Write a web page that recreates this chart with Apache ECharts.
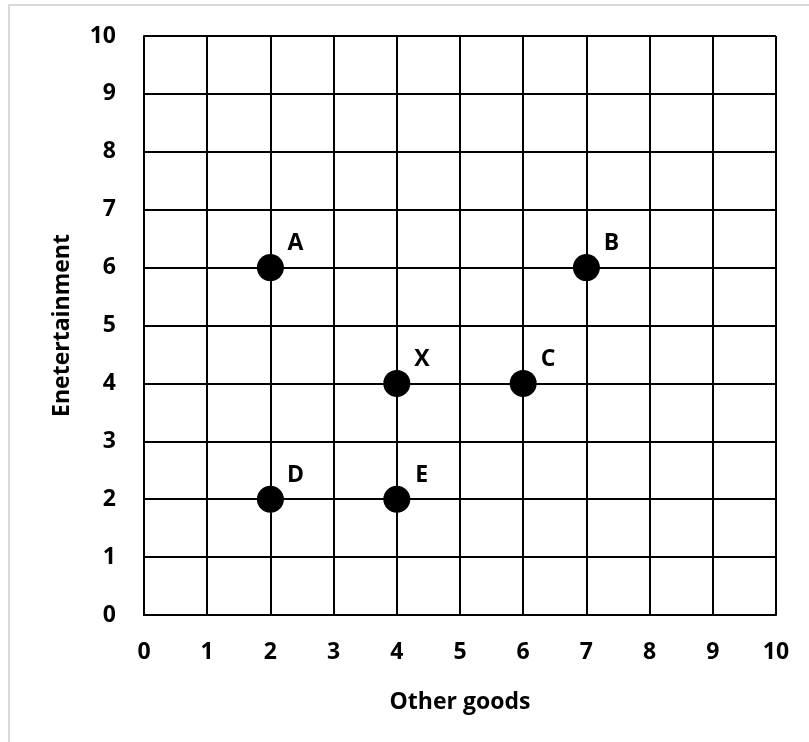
<!DOCTYPE html>
<html><head><meta charset="utf-8">
<script src="https://cdn.jsdelivr.net/npm/echarts@6/dist/echarts.min.js"></script>
<style>html,body{margin:0;padding:0;background:#fff}#c{width:809px;height:742px}</style>
</head><body><div id="c"></div>
<script>
const pointNames = ['A','B','X','C','D','E'];
const otherGoods = [2,7,4,6,2,4];
const entertainment = [6,6,4,4,2,2];
const xTicks = [0,1,2,3,4,5,6,7,8,9,10];
const yTicks = [0,1,2,3,4,5,6,7,8,9,10];
const xName = 'Other goods';
const yName = 'Enetertainment';

const font = 'Open Sans';
const fs = 23;
const chart = echarts.init(document.getElementById('c'));
const data = pointNames.map((n,i)=>({name:n, value:[otherGoods[i], entertainment[i]]}));
chart.setOption({
  animation:false,
  backgroundColor:'#fff',
  graphic:[
    {type:'line', shape:{x1:9,y1:5,x2:9,y2:742}, style:{stroke:'#d9d9d9', lineWidth:2}},
    {type:'line', shape:{x1:8,y1:5,x2:809,y2:5}, style:{stroke:'#d9d9d9', lineWidth:2}}
  ],
  grid:{left:144, top:36, width:632, height:579},
  xAxis:{type:'value', min:xTicks[0], max:xTicks[xTicks.length-1], interval:1,
    name:xName, nameLocation:'middle', nameGap:76,
    nameTextStyle:{fontFamily:font, fontWeight:'bold', fontSize:fs, color:'#000'},
    axisLine:{lineStyle:{color:'#000', width:2}}, axisTick:{show:false},
    axisLabel:{margin:26, fontFamily:font, fontWeight:'bold', fontSize:fs, color:'#000'},
    splitLine:{lineStyle:{color:'#000', width:2}}},
  yAxis:{type:'value', min:yTicks[0], max:yTicks[yTicks.length-1], interval:1,
    name:yName, nameLocation:'middle', nameGap:70,
    nameTextStyle:{fontFamily:font, fontWeight:'bold', fontSize:fs, color:'#000'},
    axisLine:{lineStyle:{color:'#000', width:2}}, axisTick:{show:false},
    axisLabel:{margin:28, fontFamily:font, fontWeight:'bold', fontSize:fs, color:'#000'},
    splitLine:{lineStyle:{color:'#000', width:2}}},
  series:[{type:'scatter', data:data, symbolSize:27,
    itemStyle:{color:'#000', opacity:1},
    label:{show:true, position:'inside', offset:[25,-24], formatter:'{b}',
      fontFamily:font, fontWeight:'bold', fontSize:fs, color:'#000'}}]
});
</script></body></html>
